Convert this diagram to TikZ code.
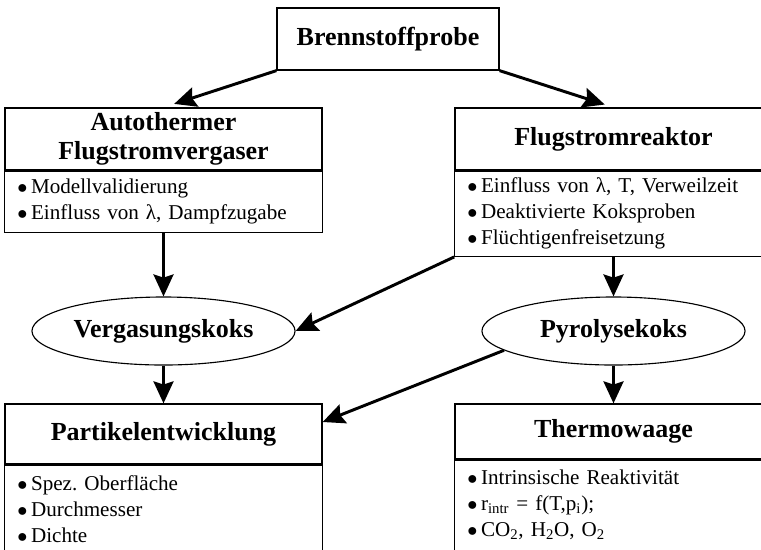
\documentclass[tikz,border=0pt]{standalone}
\usepackage{fontspec}
\setmainfont{Liberation Serif}
\usetikzlibrary{shapes.geometric,arrows.meta}

\newcommand{\punkt}{$\bullet$\,}
\tikzset{
  titel/.style={draw,line width=0.9pt,inner sep=0pt,align=center,
    minimum width=7.925cm,font=\fontsize{18.5}{21}\selectfont\bfseries},
  liste/.style={draw,line width=0.9pt,anchor=north,inner xsep=9pt,inner ysep=0pt,
    text width=7.3cm,align=left,font=\fontsize{15}{18.5}\selectfont\frenchspacing},
  koks/.style={ellipse,draw,line width=0.8pt,inner sep=0pt,
    minimum width=6.575cm,minimum height=1.7cm,font=\fontsize{18.5}{20}\selectfont\bfseries},
  pfeil/.style={-{Stealth[length=0.55cm,width=0.5cm,inset=0.08cm]},line width=2.1pt}
}

\begin{document}
\begin{tikzpicture}[x=0.025cm,y=-0.025cm]
\clip (0,0) rectangle (761,549);

% Probe oben
\node[titel,minimum width=5.55cm,minimum height=1.55cm] (probe) at (388,39) {Brennstoffprobe};

% Versuchsanlagen
\node[titel,minimum height=1.55cm] (vergaser) at (163.5,139) {Autothermer\\Flugstromvergaser};
\node[liste,minimum height=1.525cm] (vergaserliste) at (vergaser.south)
  {\punkt Modellvalidierung\\\punkt Einfluss von λ, Dampfzugabe};
\node[titel,minimum height=1.55cm] (reaktor) at (613.5,139) {Flugstromreaktor};
\node[liste,minimum height=2.125cm] (reaktorliste) at (reaktor.south)
  {\punkt Einfluss von λ, T, Verweilzeit\\\punkt Deaktivierte Koksproben\\\punkt Flüchtigenfreisetzung};

% Koksproben
\node[koks] (vergasung) at (163.5,331) {Vergasungskoks};
\node[koks] (pyrolyse) at (613.5,331) {Pyrolysekoks};

% Analysen unten
\node[titel,minimum height=1.5cm] (partikel) at (163.5,434) {Partikelentwicklung};
\node[liste,inner ysep=7pt,text height=11pt,text depth=3cm] (partikelliste) at (partikel.south)
  {\punkt Spez. Oberfläche\\\punkt Durchmesser\\\punkt Dichte};
\node[titel,minimum height=1.375cm] (thermo) at (613.5,431.5) {Thermowaage};
\node[liste,inner ysep=6pt,text height=11pt,text depth=3cm] (thermoliste) at (thermo.south)
  {\punkt Intrinsische Reaktivität\\\punkt r\textsubscript{intr} = f(T,p\textsubscript{i});\\\punkt CO\textsubscript{2}, H\textsubscript{2}O, O\textsubscript{2}};

% Pfeile
\draw[pfeil,shorten >=0.28cm] (probe.south west) -- (vergaser.north);
\draw[pfeil,shorten >=0.23cm] (probe.south east) -- (reaktor.north);
\draw[pfeil] (vergaserliste.south) -- (vergasung.north);
\draw[pfeil] (reaktorliste.south west) -- (vergasung.east);
\draw[pfeil] (reaktorliste.south) -- (pyrolyse.north);
\draw[pfeil] (vergasung.south) -- (partikel.north);
\draw[pfeil] (pyrolyse.190) -- ([yshift=0.3cm]partikel.east);
\draw[pfeil] (pyrolyse.south) -- (thermo.north);
\end{tikzpicture}
\end{document}
